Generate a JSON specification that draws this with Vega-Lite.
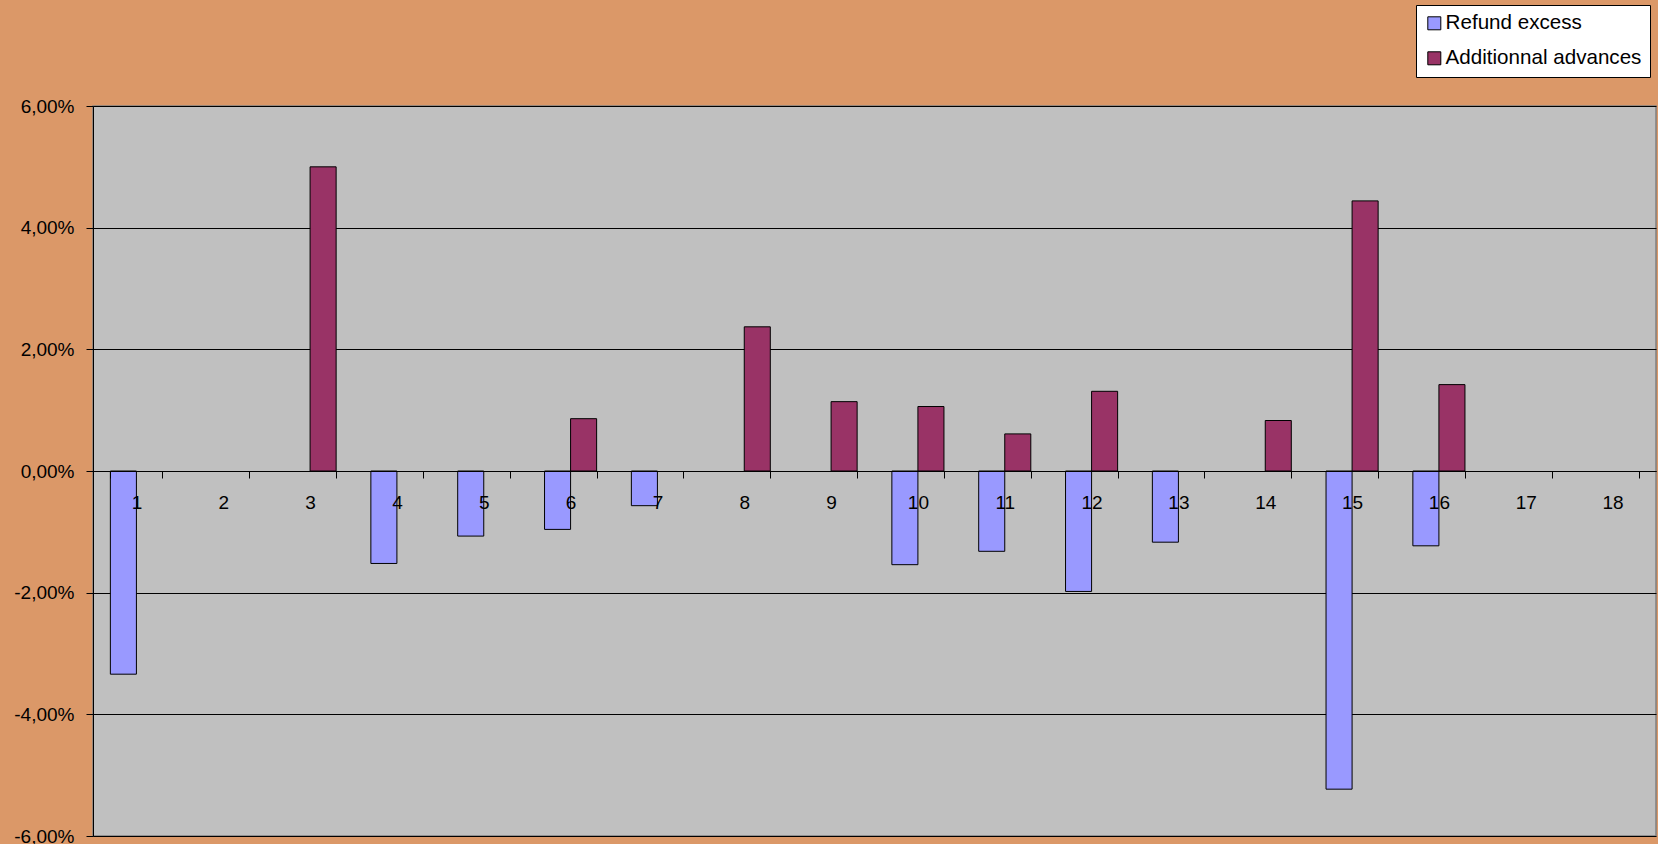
{
  "$schema": "https://vega.github.io/schema/vega-lite/v6.json",
  "width": 1563,
  "height": 730,
  "autosize": "none",
  "padding": {"left": 93, "top": 106, "right": 2, "bottom": 8},
  "background": "#DB9868",
  "config": {
    "locale": {"number": {"decimal": ",", "thousands": " ", "grouping": [3], "currency": ["", " €"], "minus": "-"}},
    "font": "Liberation Sans",
    "view": {"fill": "#C0C0C0", "stroke": "#808080", "strokeWidth": 1.5}
  },
  "data": {
    "values": [
      {"period": 1, "series": "Refund excess", "value": -0.0334},
      {"period": 3, "series": "Additionnal advances", "value": 0.0500},
      {"period": 4, "series": "Refund excess", "value": -0.0152},
      {"period": 5, "series": "Refund excess", "value": -0.0107},
      {"period": 6, "series": "Refund excess", "value": -0.0096},
      {"period": 6, "series": "Additionnal advances", "value": 0.0086},
      {"period": 7, "series": "Refund excess", "value": -0.0057},
      {"period": 8, "series": "Additionnal advances", "value": 0.0237},
      {"period": 9, "series": "Additionnal advances", "value": 0.0114},
      {"period": 10, "series": "Refund excess", "value": -0.0154},
      {"period": 10, "series": "Additionnal advances", "value": 0.0106},
      {"period": 11, "series": "Refund excess", "value": -0.0132},
      {"period": 11, "series": "Additionnal advances", "value": 0.0061},
      {"period": 12, "series": "Refund excess", "value": -0.0198},
      {"period": 12, "series": "Additionnal advances", "value": 0.0131},
      {"period": 13, "series": "Refund excess", "value": -0.0117},
      {"period": 14, "series": "Additionnal advances", "value": 0.0083},
      {"period": 15, "series": "Refund excess", "value": -0.0523},
      {"period": 15, "series": "Additionnal advances", "value": 0.0444},
      {"period": 16, "series": "Refund excess", "value": -0.0123},
      {"period": 16, "series": "Additionnal advances", "value": 0.0142}
    ]
  },
  "mark": {"type": "bar", "stroke": "black", "strokeWidth": 1},
  "encoding": {
    "x": {
      "field": "period",
      "type": "ordinal",
      "scale": {"domain": [1, 2, 3, 4, 5, 6, 7, 8, 9, 10, 11, 12, 13, 14, 15, 16, 17, 18], "paddingInner": 0.4, "paddingOuter": 0.2},
      "axis": {
        "title": null,
        "orient": "bottom",
        "offset": -365,
        "labelAngle": 0,
        "tickBand": "extent",
        "tickSize": 7,
        "tickColor": "black",
        "domainColor": "black",
        "labelColor": "black",
        "labelFontSize": 19,
        "labelPadding": 15,
        "grid": false,
        "zindex": 1
      }
    },
    "xOffset": {
      "field": "series",
      "scale": {"domain": ["Refund excess", "Additionnal advances"], "paddingInner": 0, "paddingOuter": 0}
    },
    "y": {
      "field": "value",
      "type": "quantitative",
      "scale": {"domain": [-0.06, 0.06], "nice": false},
      "axis": {
        "title": null,
        "values": [-0.06, -0.04, -0.02, 0, 0.02, 0.04, 0.06],
        "format": ".2%",
        "grid": true,
        "gridColor": "black",
        "gridOpacity": 1,
        "domainColor": "black",
        "tickColor": "black",
        "tickSize": 7,
        "labelColor": "black",
        "labelFontSize": 19,
        "labelPadding": 12,
        "labelFlush": false,
        "labelOverlap": false
      }
    },
    "color": {
      "field": "series",
      "type": "nominal",
      "scale": {"domain": ["Refund excess", "Additionnal advances"], "range": ["#9999FF", "#993366"]},
      "legend": {
        "title": null,
        "orient": "none",
        "legendX": 1323,
        "legendY": -101,
        "fillColor": "white",
        "strokeColor": "black",
        "padding": 8,
        "symbolType": "square",
        "symbolSize": 169,
        "symbolStrokeColor": "black",
        "symbolStrokeWidth": 1,
        "symbolOpacity": 1,
        "labelFontSize": 20.6,
        "labelColor": "black",
        "labelOffset": 1,
        "rowPadding": 14,
        "labelLimit": 400
      }
    }
  }
}
